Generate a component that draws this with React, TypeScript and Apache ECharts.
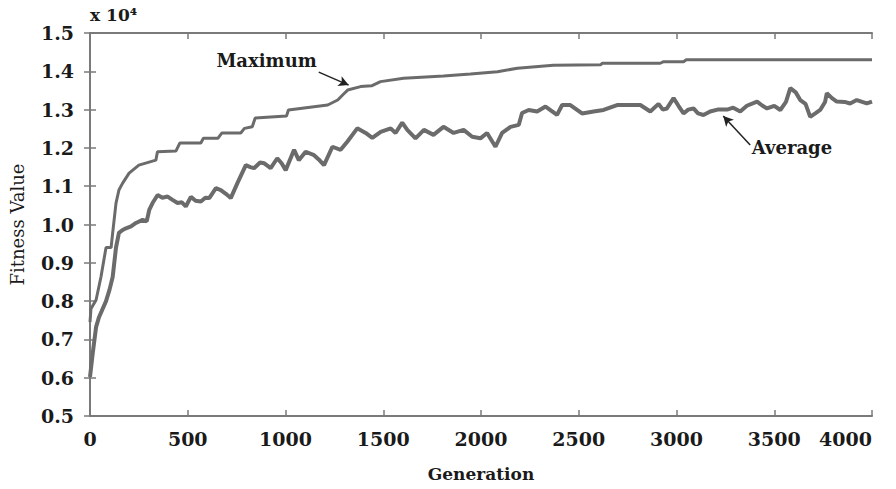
import React, { useEffect, useRef } from "react";
import * as echarts from "echarts";

// Generation / fitness value pairs
const maxGen = [0,5,31,56,82,108,116,133,148,167,200,250,337,345,440,460,567,580,654,675,771,790,830,845,1005,1015,1216,1267,1300,1318,1384,1440,1486,1604,1808,1946,2084,2186,2370,2611,2620,2917,2934,3036,3050,4000];
const maxVal = [7450,7800,8030,8630,9400,9400,9780,10560,10900,11080,11340,11550,11680,11900,11920,12130,12130,12250,12250,12390,12390,12510,12550,12780,12830,12990,13120,13250,13420,13510,13600,13620,13730,13820,13880,13930,13990,14080,14160,14170,14210,14210,14250,14250,14300,14300];

const avgGen = [0,14,31,46,82,100,116,133,148,165,184,210,235,269,290,303,320,346,370,397,420,448,470,490,516,540,567,590,610,644,669,695,720,754,797,820,839,870,890,924,958,980,1001,1044,1068,1103,1146,1170,1197,1240,1282,1316,1367,1410,1444,1487,1538,1563,1597,1623,1665,1708,1757,1808,1860,1911,1955,1997,2031,2074,2108,2151,2193,2210,2244,2287,2330,2389,2415,2457,2517,2576,2627,2696,2764,2815,2866,2908,2930,2951,2985,3010,3036,3060,3087,3110,3138,3172,3210,3259,3290,3326,3360,3412,3440,3463,3500,3531,3560,3582,3610,3633,3660,3684,3710,3735,3760,3769,3795,3820,3860,3888,3922,3950,3973,4000];
const avgVal = [6020,6640,7320,7580,8000,8300,8630,9400,9780,9850,9900,9950,10040,10120,10080,10380,10560,10770,10700,10730,10650,10560,10580,10470,10720,10620,10600,10700,10690,10950,10900,10800,10690,11080,11550,11500,11470,11620,11600,11470,11730,11600,11420,11950,11680,11900,11810,11700,11550,12030,11950,12160,12510,12390,12260,12420,12510,12390,12660,12470,12250,12470,12340,12550,12390,12470,12290,12250,12390,12030,12390,12550,12600,12910,12990,12950,13080,12860,13120,13120,12900,12950,12990,13120,13120,13120,12950,13150,13000,13030,13300,13100,12900,13000,13030,12900,12860,12950,13000,13000,13050,12950,13100,13210,13100,13030,13100,12990,13200,13560,13450,13250,13150,12810,12900,12990,13200,13430,13300,13210,13200,13160,13250,13200,13160,13210];

const xTicks = { min: 0, max: 4000, interval: 500 };
const yTicks = { min: 5000, max: 15000, interval: 1000 };

// annotations: label text, text anchor (gen, value), arrow start, arrow end
const maxNote = { text: "Maximum", at: [1160, 14270], from: [1170, 13980], to: [1323, 13640] };
const avgNote = { text: "Average", at: [3385, 12000], from: [3377, 12076], to: [3239, 12830] };

const FONT = "DejaVu Serif";
const AX = "#7a7a7a";
const LINE = "#6b6b6b";

export default function App() {
  const ref = useRef<HTMLDivElement>(null);
  useEffect(() => {
    if (!ref.current) return;
    const chart = echarts.init(ref.current, null, { renderer: "svg" });
    const axisLine = { show: true, lineStyle: { color: AX, width: 2 } };
    const axisTick = { show: true, inside: true, length: 6, lineStyle: { color: AX, width: 1.5 } };
    const labelStyle = { fontFamily: FONT, fontWeight: "bold" as const, fontSize: 19, color: "#1a1a1a" };
    chart.setOption({
      animation: false,
      backgroundColor: "#ffffff",
      grid: { left: 89, right: 24, top: 33, bottom: 73 },
      xAxis: [
        {
          type: "value", ...xTicks, position: "bottom",
          axisLine, axisTick, splitLine: { show: false },
          axisLabel: { ...labelStyle, margin: 13, alignMaxLabel: "right", formatter: (v: number) => String(v) },
          name: "Generation", nameLocation: "middle", nameGap: 49,
          nameTextStyle: { fontFamily: FONT, fontWeight: "bold", fontSize: 17, color: "#1a1a1a" },
        },
        {
          type: "value", ...xTicks, position: "top",
          axisLine, axisTick, splitLine: { show: false }, axisLabel: { show: false },
        },
      ],
      yAxis: [
        {
          type: "value", ...yTicks, position: "left",
          axisLine, axisTick, splitLine: { show: false },
          axisLabel: { ...labelStyle, margin: 16, formatter: (v: number) => (v / 10000).toFixed(1) },
          name: "Fitness Value", nameLocation: "middle", nameGap: 64, nameRotate: 90,
          nameTextStyle: { fontFamily: FONT, fontSize: 18, color: "#1a1a1a" },
        },
        {
          type: "value", ...yTicks, position: "right",
          axisLine, axisTick, splitLine: { show: false }, axisLabel: { show: false },
        },
      ],
      series: [
        {
          name: "Maximum", type: "line", showSymbol: false,
          data: maxGen.map((g, i) => [g, maxVal[i]]),
          lineStyle: { color: LINE, width: 3 },
          markLine: {
            silent: true, symbol: ["none", "arrow"], symbolSize: [8, 10],
            lineStyle: { color: "#222", width: 1.5, type: "solid" }, label: { show: false },
            data: [
              [{ coord: maxNote.from }, { coord: maxNote.to }],
              [{ coord: avgNote.from }, { coord: avgNote.to }],
            ],
          },
        },
        {
          name: "Average", type: "line", showSymbol: false,
          data: avgGen.map((g, i) => [g, avgVal[i]]),
          lineStyle: { color: LINE, width: 4 },
        },
      ],
    });
    const p1 = chart.convertToPixel({ gridIndex: 0 }, maxNote.at) as number[];
    const p2 = chart.convertToPixel({ gridIndex: 0 }, avgNote.at) as number[];
    const noteStyle = { fontFamily: FONT, fontWeight: "bold", fontSize: 18, fill: "#1a1a1a" };
    chart.setOption({
      graphic: [
        { type: "text", left: 90, top: 6, style: { text: "x 10⁴", ...noteStyle, fontSize: 17 } },
        { type: "text", x: p1[0], y: p1[1], style: { text: maxNote.text, ...noteStyle, align: "right", verticalAlign: "middle" } },
        { type: "text", x: p2[0], y: p2[1], style: { text: avgNote.text, ...noteStyle, align: "left", verticalAlign: "middle" } },
      ],
    });
    return () => chart.dispose();
  }, []);
  return <div ref={ref} style={{ position: "fixed", left: 0, top: 0, width: 896, height: 489 }} />;
}
